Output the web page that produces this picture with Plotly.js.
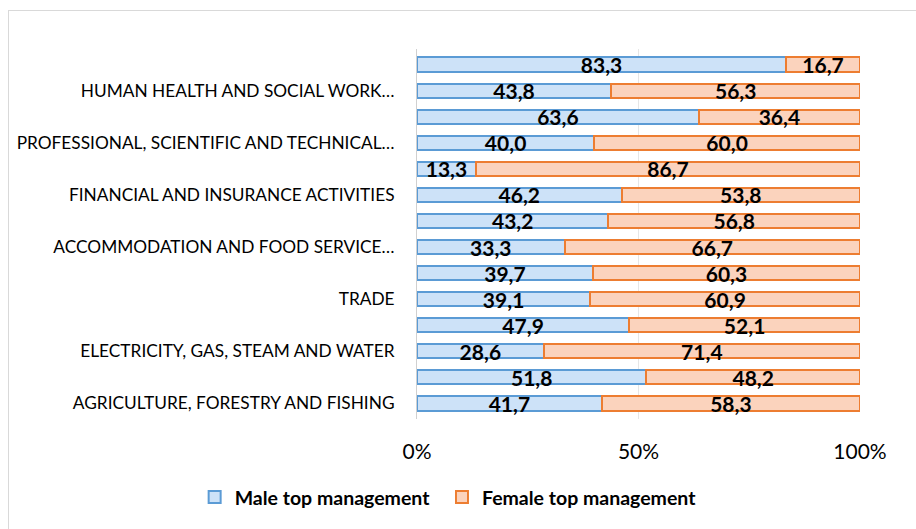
<!DOCTYPE html>
<html>
<head>
<meta charset="utf-8">
<script src="https://cdn.plot.ly/plotly-3.0.1.min.js"></script>
<style>
  html, body { margin: 0; padding: 0; background: #fff; overflow: hidden; }
  #chart { width: 916px; height: 529px; }
  #frame { position: absolute; left: 8px; top: 10px; width: 1000px; height: 1000px;
           border: 1px solid #d9d9d9; pointer-events: none; }
</style>
</head>
<body>
<div id="chart"></div>
<div id="frame"></div>
<script>
// Rows from bottom (index 0) to top (index 13); only every other row is labelled in the original.
const rowIndex = [0, 1, 2, 3, 4, 5, 6, 7, 8, 9, 10, 11, 12, 13];
const tickRows = [0, 2, 4, 6, 8, 10, 12];
const tickLabels = [
  "AGRICULTURE, FORESTRY AND FISHING",
  "ELECTRICITY, GAS, STEAM AND WATER",
  "TRADE",
  "ACCOMMODATION AND FOOD SERVICE…",
  "FINANCIAL AND INSURANCE ACTIVITIES",
  "PROFESSIONAL, SCIENTIFIC AND TECHNICAL…",
  "HUMAN HEALTH AND SOCIAL WORK…"
];
const maleValues   = [41.7, 51.8, 28.6, 47.9, 39.1, 39.7, 33.3, 43.2, 46.2, 13.3, 40.0, 63.6, 43.8, 83.3];
const femaleValues = [58.3, 48.2, 71.4, 52.1, 60.9, 60.3, 66.7, 56.8, 53.8, 86.7, 60.0, 36.4, 56.3, 16.7];
const xTickVals = [0, 50, 100];
const xTickText = ["0%", "50%", "100%"];

const fmt = v => v.toFixed(1).replace('.', ',');
const labelFont = { family: "Lato, 'Open Sans', sans-serif", size: 21, color: "#000", weight: 700 };

const traces = [
  {
    type: 'bar', orientation: 'h', name: 'Male top management', legend: 'legend',
    y: rowIndex, x: maleValues, width: 0.55,
    text: maleValues.map(fmt), textposition: 'inside', insidetextanchor: 'middle',
    textangle: 0, constraintext: 'none', textfont: labelFont,
    marker: { color: '#cde2f8', line: { color: '#5b9bd5', width: 2 } },
    hoverinfo: 'skip'
  },
  {
    type: 'bar', orientation: 'h', name: 'Female top management', legend: 'legend2',
    y: rowIndex, x: femaleValues, width: 0.55,
    text: femaleValues.map(fmt), textposition: 'inside', insidetextanchor: 'middle',
    textangle: 0, constraintext: 'none', textfont: labelFont,
    marker: { color: '#fbd3bd', line: { color: '#ed7d31', width: 2 } },
    hoverinfo: 'skip'
  }
];

const legendCommon = {
  orientation: 'h', xref: 'container', xanchor: 'left',
  yref: 'container', y: 0.06, yanchor: 'middle',
  font: { size: 19.5, color: '#000', weight: 700 },
  bgcolor: 'rgba(0,0,0,0)', itemwidth: 30
};

const layout = {
  width: 916, height: 529,
  margin: { l: 417, r: 56, t: 49, b: 110 },
  barmode: 'stack',
  paper_bgcolor: '#fff', plot_bgcolor: '#fff',
  font: { family: "Lato, 'Open Sans', sans-serif", color: '#000' },
  xaxis: {
    range: [0, 100], tickvals: xTickVals, ticktext: xTickText,
    showgrid: true, gridcolor: '#e6e6e6', gridwidth: 1, zeroline: false,
    showline: false, ticks: 'outside', ticklen: 14, tickcolor: 'rgba(0,0,0,0)',
    tickfont: { size: 21, color: '#000' }
  },
  yaxis: {
    range: [-0.6, 13.6], tickvals: tickRows, ticktext: tickLabels,
    showgrid: false, zeroline: false, showline: true, linecolor: '#d0d0d0', linewidth: 1,
    ticks: 'outside', ticklen: 18, tickcolor: 'rgba(0,0,0,0)',
    tickfont: { size: 17.3, color: '#000' }
  },
  showlegend: true,
  legend: Object.assign({}, legendCommon, { x: 0.2125 }),
  legend2: Object.assign({}, legendCommon, { x: 0.4825 }),
  bargap: 0.45
};

Plotly.newPlot('chart', traces, layout, { displayModeBar: false, staticPlot: true });
</script>
</body>
</html>
